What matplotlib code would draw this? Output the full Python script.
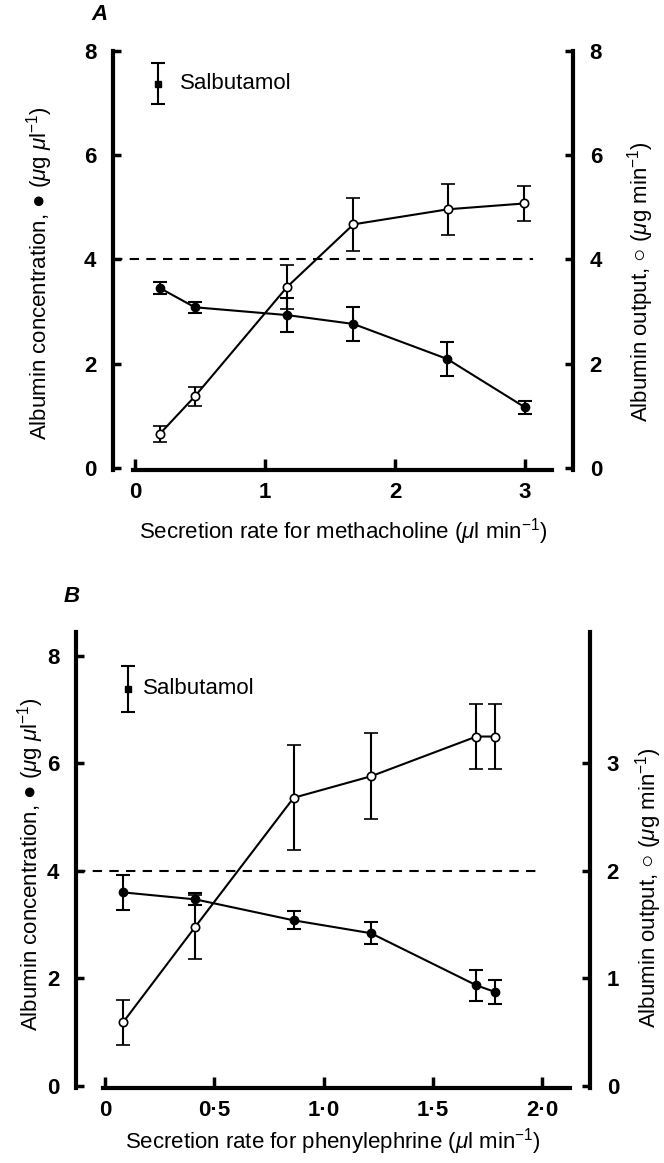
import matplotlib
matplotlib.use("Agg")
import matplotlib.pyplot as plt

plt.rcParams['font.family'] = ['Liberation Sans', 'DejaVu Sans']
plt.rcParams['mathtext.fontset'] = 'custom'
plt.rcParams['mathtext.rm'] = 'Liberation Sans'
plt.rcParams['mathtext.it'] = 'Liberation Sans:italic'
plt.rcParams['mathtext.bf'] = 'Liberation Sans:bold'

# ---------------- Data: panel A (methacholine) ----------------
A_x_conc = [0.19, 0.46, 1.17, 1.68, 2.40, 3.00]
A_conc = [3.45, 3.08, 2.93, 2.76, 2.09, 1.16]
A_conc_err = [0.11, 0.11, 0.32, 0.32, 0.32, 0.13]
A_x_out = [0.19, 0.46, 1.17, 1.68, 2.41, 2.99]
A_out = [0.65, 1.37, 3.47, 4.67, 4.96, 5.07]
A_out_err = [0.15, 0.19, 0.42, 0.51, 0.49, 0.33]
A_salb_x = [0.18]
A_salb = [7.37]
A_salb_err = [0.40]
A_xticks = [0, 1, 2, 3]
A_xticklabels = ['0', '1', '2', '3']
A_yticks = [0, 2, 4, 6, 8]
A_ryticks = [0, 2, 4, 6, 8]

# ---------------- Data: panel B (phenylephrine) ----------------
B_x = [0.082, 0.413, 0.863, 1.217, 1.70, 1.783]
B_conc = [3.60, 3.47, 3.08, 2.84, 1.87, 1.75]
B_conc_err = [0.33, 0.11, 0.17, 0.20, 0.29, 0.22]
B_out = [0.59, 1.48, 2.68, 2.88, 3.25, 3.25]
B_out_err = [0.21, 0.30, 0.49, 0.40, 0.30, 0.30]
B_salb_x = [0.105]
B_salb = [7.39]
B_salb_err = [0.43]
B_xticks = [0, 0.5, 1.0, 1.5, 2.0]
B_xticklabels = ['0', '0·5', '1·0', '1·5', '2·0']
B_yticks = [0, 2, 4, 6, 8]
B_ryticks = [0, 1, 2, 3]

REF_LEVEL = 4

FS = 16
SPINE_W = 3.0
LINE_W = 1.5


def style_axis(ax, xlim, ylim, xbounds):
    ax.set_xlim(*xlim)
    ax.set_ylim(*ylim)
    for side in ('top', 'right'):
        ax.spines[side].set_visible(False)
    ax.spines['left'].set_linewidth(SPINE_W)
    ax.spines['bottom'].set_linewidth(SPINE_W)
    ax.spines['bottom'].set_bounds(*xbounds)
    ax.tick_params(axis='y', direction='in', length=6, width=2.5, pad=12,
                   labelsize=FS)
    ax.tick_params(axis='x', direction='in', length=8, width=2.5, pad=9,
                   labelsize=FS)
    for lab in ax.get_xticklabels() + ax.get_yticklabels():
        lab.set_fontweight('bold')


def style_right(ax2, ylim):
    ax2.set_ylim(*ylim)
    for side in ('top', 'left', 'bottom'):
        ax2.spines[side].set_visible(False)
    ax2.spines['right'].set_linewidth(SPINE_W)
    ax2.tick_params(axis='y', direction='in', length=6, width=2.5, pad=12,
                    labelsize=FS)
    for lab in ax2.get_yticklabels():
        lab.set_fontweight('bold')


def draw_panel(ax, ax2, x_conc, conc, conc_err, x_out, out, out_err,
               sx, sy, serr, dash_end):
    ax.plot([ax.get_xlim()[0], dash_end], [REF_LEVEL, REF_LEVEL],
            color='black', lw=1.5, linestyle=(0, (4.5, 3.5)), zorder=1,
            clip_on=False)
    ax.errorbar(x_conc, conc, yerr=conc_err, fmt='-o', color='black',
                lw=LINE_W, elinewidth=LINE_W, capsize=5, capthick=LINE_W,
                markersize=6, markerfacecolor='black', zorder=3)
    ax2.errorbar(x_out, out, yerr=out_err, fmt='-o', color='black',
                 lw=LINE_W, elinewidth=LINE_W, capsize=5, capthick=LINE_W,
                 markersize=6, markerfacecolor='white', markeredgewidth=1.2,
                 zorder=3)
    ax.errorbar(sx, sy, yerr=serr, fmt='s', color='black',
                elinewidth=LINE_W, capsize=5, capthick=LINE_W,
                markersize=5, zorder=3)


fig = plt.figure(figsize=(6.64, 11.63), dpi=100)

# ---------------- Panel A ----------------
axA = fig.add_axes([0.1702, 0.5959, 0.6928, 0.3605])
axA.set_xticks(A_xticks)
axA.set_xticklabels(A_xticklabels)
axA.set_yticks(A_yticks)
axA.set_yticklabels([str(v) for v in A_yticks])
style_axis(axA, (-0.169, 3.369), (-0.04, 8.0), (-0.013, 3.205))
axA2 = axA.twinx()
axA2.set_yticks(A_ryticks)
axA2.set_yticklabels([str(v) for v in A_ryticks])
style_right(axA2, (-0.04, 8.0))
draw_panel(axA, axA2, A_x_conc, A_conc, A_conc_err, A_x_out, A_out, A_out_err,
           A_salb_x, A_salb, A_salb_err, 3.06)
axA.text(0.346, 7.37, 'Salbutamol', fontsize=FS, va='center', ha='left')
axA.set_xlabel(r'Secretion rate for methacholine ($\mu$l min$^{-1}$)',
               fontsize=FS, labelpad=9)
axA.set_ylabel(r'Albumin concentration, ● ($\mu$g $\mu$l$^{-1}$)',
               fontsize=FS, va='center')
axA.yaxis.set_label_coords(-0.159, 0.47)
axA2.set_ylabel(r'Albumin output, ○ ($\mu$g min$^{-1}$)', fontsize=FS,
                va='center')
axA2.yaxis.set_label_coords(1.146, 0.45)
fig.text(100 / 664, 1 - 15 / 1163, 'A', fontsize=FS, fontweight='bold',
         fontstyle='italic', ha='center', va='center')

# ---------------- Panel B ----------------
axB = fig.add_axes([0.1145, 0.0645, 0.7741, 0.3923])
axB.set_xticks(B_xticks)
axB.set_xticklabels(B_xticklabels)
axB.set_yticks(B_yticks)
axB.set_yticklabels([str(v) for v in B_yticks])
style_axis(axB, (-0.133, 2.220), (-0.04, 8.45), (-0.008, 2.13))
axB2 = axB.twinx()
axB2.set_yticks(B_ryticks)
axB2.set_yticklabels([str(v) for v in B_ryticks])
style_right(axB2, (-0.02, 4.225))
draw_panel(axB, axB2, B_x, B_conc, B_conc_err, B_x, B_out, B_out_err,
           B_salb_x, B_salb, B_salb_err, 2.0)
axB.text(0.173, 7.39, 'Salbutamol', fontsize=FS, va='center', ha='left')
axB.set_xlabel(r'Secretion rate for phenylephrine ($\mu$l min$^{-1}$)',
               fontsize=FS, labelpad=3)
axB.set_ylabel(r'Albumin concentration, ● ($\mu$g $\mu$l$^{-1}$)',
               fontsize=FS, va='center')
axB.yaxis.set_label_coords(-0.089, 0.49)
axB2.set_ylabel(r'Albumin output, ○ ($\mu$g min$^{-1}$)', fontsize=FS,
                va='center')
axB2.yaxis.set_label_coords(1.113, 0.44)
fig.text(72 / 664, 1 - 597 / 1163, 'B', fontsize=FS, fontweight='bold',
         fontstyle='italic', ha='center', va='center')

fig.savefig('out.png', dpi=100)
